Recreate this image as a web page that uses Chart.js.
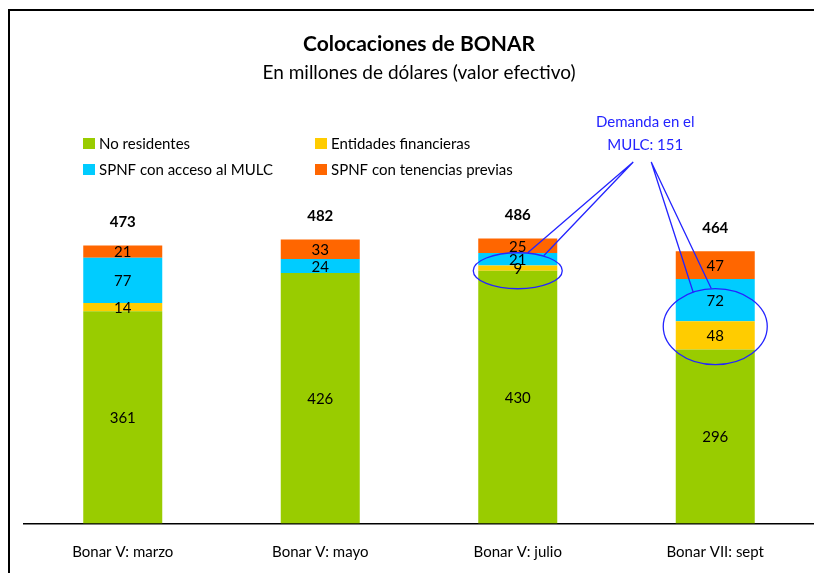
<!DOCTYPE html>
<html>
<head>
<meta charset="utf-8">
<script src="https://cdn.jsdelivr.net/npm/chart.js@4"></script>
<style>
  html, body { margin: 0; padding: 0; background: #fff; }
  #wrap { width: 814px; height: 573px; position: relative; }
</style>
</head>
<body>
<div id="wrap"><canvas id="bonarChart" width="814" height="573"></canvas></div>
<script>
// Colocaciones de BONAR, en millones de dólares
const categorias = ["Bonar V: marzo", "Bonar V: mayo", "Bonar V: julio", "Bonar VII: sept"];
const noResidentes = [361, 426, 430, 296];
const entidadesFinancieras = [14, 0, 9, 48];
const spnfAccesoMulc = [77, 24, 21, 72];
const spnfTenenciasPrevias = [21, 33, 25, 47];
const totales = [473, 482, 486, 464];
const demandaMulc = 151;

const FONT = "Lato, 'Open Sans', sans-serif";
const AZUL = "#2424ff";

// frame around the chart (top and left edges only, like the original)
const framePlugin = {
  id: "frame",
  beforeDraw(chart) {
    const ctx = chart.ctx;
    ctx.save();
    ctx.fillStyle = "#fff";
    ctx.fillRect(0, 0, chart.width, chart.height);
    ctx.strokeStyle = "#000";
    ctx.lineWidth = 2;
    ctx.beginPath();
    ctx.moveTo(9, chart.height);
    ctx.lineTo(9, 10);
    ctx.lineTo(chart.width, 10);
    ctx.stroke();
    ctx.restore();
  }
};

// 2x2 legend
const legendPlugin = {
  id: "gridLegend",
  afterDraw(chart) {
    const ctx = chart.ctx;
    const cols = [83, 315];
    const rows = [143.5, 169.5];
    ctx.save();
    ctx.font = "15px " + FONT;
    ctx.textBaseline = "middle";
    chart.data.datasets.forEach((ds, i) => {
      const x = cols[i % 2], y = rows[Math.floor(i / 2)];
      ctx.fillStyle = ds.backgroundColor;
      ctx.fillRect(x, y - 5.5, 12, 11);
      ctx.fillStyle = "#000";
      ctx.fillText(ds.label, x + 16, y + 0.5);
    });
    ctx.restore();
  }
};

// values inside the segments and totals above the bars
const labelsPlugin = {
  id: "barLabels",
  afterDatasetsDraw(chart) {
    const ctx = chart.ctx;
    ctx.save();
    ctx.textAlign = "center";
    ctx.textBaseline = "middle";
    ctx.fillStyle = "#000";
    ctx.font = "15px " + FONT;
    chart.data.datasets.forEach((ds, i) => {
      chart.getDatasetMeta(i).data.forEach((bar, j) => {
        if (!ds.data[j]) return;
        ctx.fillText(ds.data[j], bar.x, (bar.y + bar.base) / 2 + 1);
      });
    });
    const top = chart.getDatasetMeta(chart.data.datasets.length - 1).data;
    ctx.font = "bold 15px " + FONT;
    top.forEach((bar, j) => {
      ctx.fillText(totales[j], bar.x, bar.y - 23);
    });
    ctx.restore();
  }
};

// callout "Demanda en el MULC"
const calloutPlugin = {
  id: "callout",
  afterDraw(chart) {
    const ctx = chart.ctx;
    const xs = chart.scales.x, ys = chart.scales.y;
    const bar = chart.getDatasetMeta(0).data[2];
    const rx1 = bar.width / 2 + 5;
    const c1 = { x: xs.getPixelForValue(2), y: ys.getPixelForValue(430), rx: rx1, ry: 18 };
    const c2 = { x: xs.getPixelForValue(3), y: ys.getPixelForValue(335), rx: rx1 + 7.5, ry: 38 };
    const tx = xs.getPixelForValue(3) - 70;

    ctx.save();
    ctx.strokeStyle = AZUL;
    ctx.lineWidth = 1.3;
    [c1, c2].forEach(c => {
      ctx.beginPath();
      ctx.ellipse(c.x, c.y, c.rx, c.ry, 0, 0, Math.PI * 2);
      ctx.stroke();
    });
    ctx.beginPath();
    ctx.moveTo(c1.x + 10, c1.y - 18);
    ctx.lineTo(tx - 12, 162);
    ctx.lineTo(c1.x + 26, c1.y - 15);
    ctx.moveTo(c2.x - 22, c2.y - 34);
    ctx.lineTo(tx + 6, 162);
    ctx.lineTo(c2.x - 4, c2.y - 38);
    ctx.stroke();

    ctx.fillStyle = AZUL;
    ctx.font = "15px " + FONT;
    ctx.textAlign = "center";
    ctx.textBaseline = "middle";
    ctx.fillText("Demanda en el", tx, 122);
    ctx.fillText("MULC: " + demandaMulc, tx, 145);
    ctx.restore();
  }
};

const ctx = document.getElementById("bonarChart").getContext("2d");

new Chart(ctx, {
  type: "bar",
  data: {
    labels: categorias,
    datasets: [
      { label: "No residentes", data: noResidentes, backgroundColor: "#99cc00" },
      { label: "Entidades financieras", data: entidadesFinancieras, backgroundColor: "#ffcc00" },
      { label: "SPNF con acceso al MULC", data: spnfAccesoMulc, backgroundColor: "#00ccff" },
      { label: "SPNF con tenencias previas", data: spnfTenenciasPrevias, backgroundColor: "#ff6600" }
    ]
  },
  plugins: [framePlugin, legendPlugin, labelsPlugin, calloutPlugin],
  options: {
    responsive: false,
    animation: false,
    datasets: { bar: { barPercentage: 0.4, categoryPercentage: 1.0 } },
    layout: { padding: { left: 24, right: 0, top: 0, bottom: 10 } },
    plugins: {
      legend: { display: false },
      tooltip: { enabled: false },
      title: {
        display: true,
        text: "Colocaciones de BONAR",
        color: "#000",
        font: { family: FONT, size: 21, weight: "bold" },
        padding: { top: 32, bottom: 4 }
      },
      subtitle: {
        display: true,
        text: "En millones de dólares (valor efectivo)",
        color: "#000",
        font: { family: FONT, size: 19 },
        padding: { top: 0, bottom: 145.6 }
      }
    },
    scales: {
      x: {
        stacked: true,
        grid: { display: false, drawTicks: true, tickLength: 17.6 },
        border: { display: true, color: "#000", width: 1.5 },
        ticks: { color: "#000", padding: 2, font: { family: FONT, size: 15 } }
      },
      y: {
        stacked: true,
        display: false,
        min: 0,
        max: 500
      }
    }
  }
});
</script>
</body>
</html>
